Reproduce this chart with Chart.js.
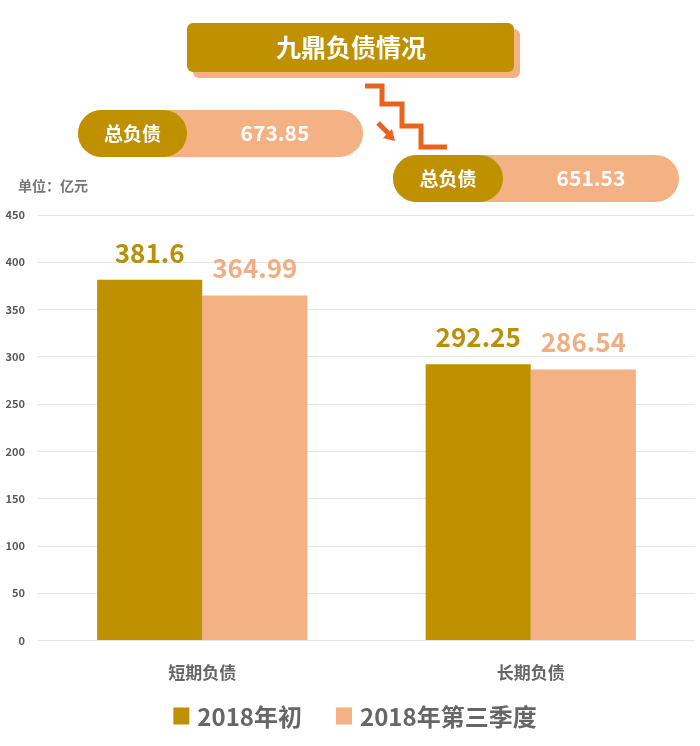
<!DOCTYPE html>
<html>
<head>
<meta charset="utf-8">
<script src="https://cdn.jsdelivr.net/npm/chart.js@4"></script>
<style>
  html, body { margin: 0; padding: 0; background: #fff; }
  #wrap { width: 700px; height: 746px; }
</style>
</head>
<body>
<div id="wrap"><canvas id="debtChart"></canvas></div>
<script>

/* DATA */

const categories = ["短期负债", "长期负债"];
const seriesNames = ["2018年初", "2018年第三季度"];
const startValues = [381.6, 292.25];
const q3Values = [364.99, 286.54];
const totalValues = [673.85, 651.53];
const totalLabel = "总负债";
const chartTitle = "九鼎负债情况";
const unitLabel = "单位：亿元";

const GOLD = "#bf9000";
const SALMON = "#f4b183";
const FONT = "'Noto Sans CJK SC', 'Noto Sans', sans-serif";


/* HEADER DECORATION */

function pill(ctx, x, y, w, h, goldW, value) {

  ctx.fillStyle = SALMON;
  ctx.beginPath();
  ctx.roundRect(x, y, w, h, h / 2);
  ctx.fill();

  ctx.fillStyle = GOLD;
  ctx.beginPath();
  ctx.roundRect(x, y, goldW, h, h / 2);
  ctx.fill();

  ctx.fillStyle = "#fff";
  ctx.textAlign = "center";
  ctx.textBaseline = "middle";
  ctx.font = "bold 19px " + FONT;
  ctx.fillText(totalLabel, x + goldW / 2, y + h / 2);
  ctx.font = "bold 21px " + FONT;
  ctx.fillText(value.toFixed(2), x + goldW + (w - goldW) / 2, y + h / 2);

}

const headerPlugin = {
  id: "header",
  beforeDraw(chart) {

    const ctx = chart.ctx;
    ctx.save();

    // title box with shadow
    ctx.fillStyle = SALMON;
    ctx.beginPath();
    ctx.roundRect(193, 29, 327, 49, 6);
    ctx.fill();
    ctx.fillStyle = GOLD;
    ctx.beginPath();
    ctx.roundRect(187, 23, 327, 49, 6);
    ctx.fill();
    ctx.fillStyle = "#fff";
    ctx.font = "bold 25px " + FONT;
    ctx.textAlign = "center";
    ctx.textBaseline = "middle";
    ctx.fillText(chartTitle, 351, 47);

    // staircase arrow
    ctx.strokeStyle = "#e8641e";
    ctx.lineWidth = 5;
    ctx.lineJoin = "miter";
    ctx.beginPath();
    ctx.moveTo(365, 86);
    ctx.lineTo(382, 86);
    ctx.lineTo(382, 104);
    ctx.lineTo(402, 104);
    ctx.lineTo(402, 126);
    ctx.lineTo(421, 126);
    ctx.lineTo(421, 147);
    ctx.lineTo(447, 147);
    ctx.stroke();

    ctx.beginPath();
    ctx.moveTo(378, 123);
    ctx.lineTo(389, 134);
    ctx.stroke();
    ctx.fillStyle = "#e8641e";
    ctx.beginPath();
    ctx.moveTo(395, 141);
    ctx.lineTo(383, 138);
    ctx.lineTo(392, 129);
    ctx.closePath();
    ctx.fill();

    // total pills
    pill(ctx, 78, 110, 285, 47, 109, totalValues[0]);
    pill(ctx, 393, 155, 286, 47, 110, totalValues[1]);

    // unit
    ctx.fillStyle = "#777";
    ctx.font = "bold 14px " + FONT;
    ctx.textAlign = "left";
    ctx.fillText(unitLabel, 18, 186);

    ctx.restore();

  }
};


/* VALUE LABELS + LEGEND */

const valuePlugin = {
  id: "values",
  afterDatasetsDraw(chart) {

    const ctx = chart.ctx;
    const colors = ["#b8900a", "#f0ae85"];

    ctx.save();
    ctx.font = "bold 26px " + FONT;
    ctx.textAlign = "center";
    ctx.textBaseline = "middle";

    chart.data.datasets.forEach((ds, i) => {
      chart.getDatasetMeta(i).data.forEach((bar, j) => {
        ctx.fillStyle = colors[i];
        ctx.fillText(String(ds.data[j]), bar.x, bar.y - 27);
      });
    });

    // legend, centred below the axis
    ctx.font = "bold 24px " + FONT;
    ctx.textAlign = "left";
    const box = 16, gap = 8, itemGap = 34, cy = 716;
    const widths = chart.data.datasets.map(ds => box + gap + ctx.measureText(ds.label).width);
    const total = widths.reduce((a, b) => a + b, 0) + itemGap * (widths.length - 1);
    let x = 355 - total / 2;

    chart.data.datasets.forEach((ds, i) => {
      ctx.fillStyle = ds.backgroundColor;
      ctx.fillRect(x, cy - 8.5, box, 17);
      ctx.fillStyle = "#666";
      ctx.fillText(ds.label, x + box + gap, cy + 1);
      x += widths[i] + itemGap;
    });

    ctx.restore();

  }
};


/* CHART */

new Chart(document.getElementById("debtChart"), {

  type: "bar",

  data: {
    labels: categories,
    datasets: [
      {
        label: seriesNames[0],
        data: startValues,
        backgroundColor: GOLD
      },
      {
        label: seriesNames[1],
        data: q3Values,
        backgroundColor: SALMON
      }
    ]
  },

  options: {
    responsive: true,
    maintainAspectRatio: false,
    animation: false,
    categoryPercentage: 0.64,
    barPercentage: 1,
    layout: {
      padding: { top: 215, right: 5, left: 0, bottom: 49 }
    },
    plugins: {
      tooltip: { enabled: false },
      legend: { display: false }
    },
    scales: {
      x: {
        grid: { display: false },
        border: { display: false },
        ticks: {
          color: "#666",
          padding: 14,
          font: { family: FONT, size: 17, weight: "bold" }
        }
      },
      y: {
        min: 0,
        max: 450,
        afterFit(scale) { scale.width = 38; },
        grid: { color: "#e6e6e6", drawTicks: false },
        border: { display: false },
        ticks: {
          stepSize: 50,
          padding: 13,
          color: "#595959",
          font: { family: FONT, size: 11, weight: "bold" }
        }
      }
    }
  },

  plugins: [headerPlugin, valuePlugin]

});

</script>
</body>
</html>
